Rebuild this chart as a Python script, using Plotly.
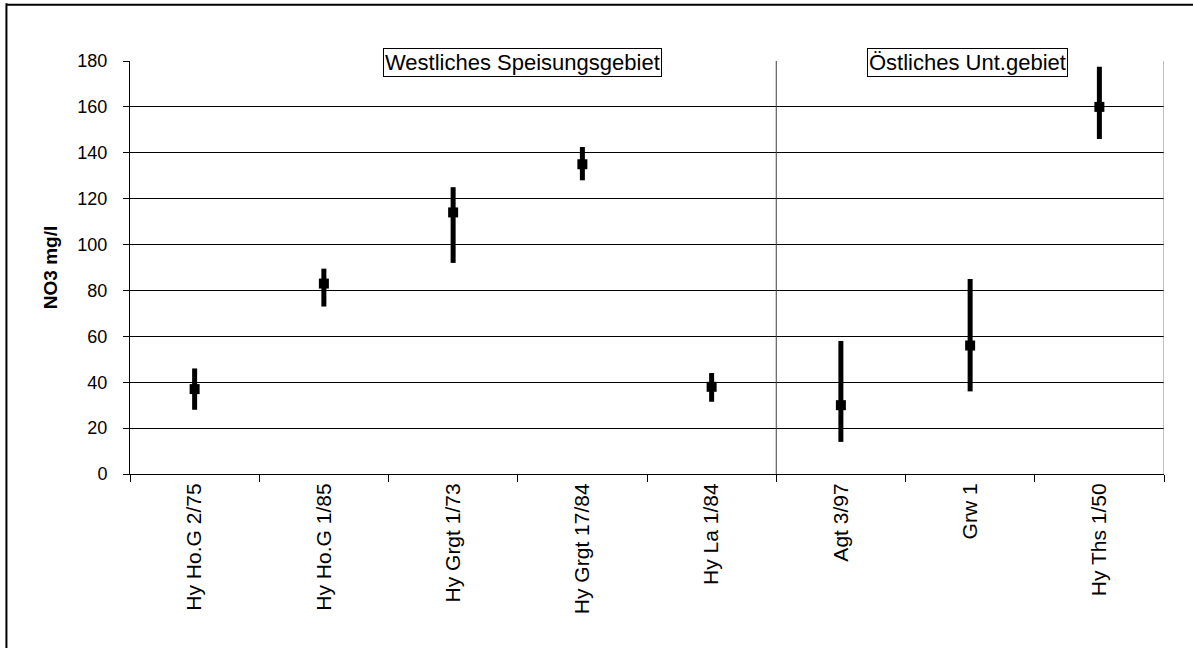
import plotly.graph_objects as go

# Nitrate concentrations per well: mean value with observed min/max range
wells = ["Hy Ho.G 2/75", "Hy Ho.G 1/85", "Hy Grgt 1/73", "Hy Grgt 17/84",
         "Hy La 1/84", "Agt 3/97", "Grw 1", "Hy Ths 1/50"]
no3_mean = [37, 83, 114, 135, 38, 30, 56, 160]
no3_min = [28, 73, 92, 128, 31.5, 14, 36, 146]
no3_max = [46, 89.5, 125, 142.5, 44, 58, 85, 177.5]

y_ticks = [0, 20, 40, 60, 80, 100, 120, 140, 160, 180]
region_labels = ["Westliches Speisungsgebiet", "Östliches Unt.gebiet"]
region_centres = [2.54, 5.98]

err_plus = [hi - m for hi, m in zip(no3_max, no3_mean)]
err_minus = [m - lo for m, lo in zip(no3_mean, no3_min)]

FONT = "Liberation Sans, Arial, sans-serif"

fig = go.Figure(
    go.Scatter(
        x=wells,
        y=no3_mean,
        mode="markers",
        marker=dict(symbol="square", size=10, color="black"),
        error_y=dict(type="data", array=err_plus, arrayminus=err_minus,
                     thickness=5, width=0, color="black"),
        showlegend=False,
        hoverinfo="x+y",
    )
)

fig.update_layout(
    width=1193,
    height=648,
    margin=dict(l=130, r=29, t=61, b=174),
    paper_bgcolor="white",
    plot_bgcolor="white",
    font=dict(family=FONT, color="black", size=18),
    xaxis=dict(
        type="category",
        range=[-0.5, len(wells) - 0.5],
        tickson="boundaries",
        ticks="outside",
        ticklen=7,
        tickcolor="black",
        tickangle=-90,
        tickfont=dict(size=21),
        showline=True,
        linecolor="black",
        linewidth=1,
        showgrid=False,
        zeroline=False,
    ),
    yaxis=dict(
        range=[0, 180],
        tickvals=y_ticks,
        ticks="outside",
        ticklen=6,
        tickcolor="black",
        ticklabelstandoff=12,
        tickfont=dict(size=18),
        showline=True,
        linecolor="black",
        linewidth=1,
        showgrid=True,
        gridcolor="black",
        gridwidth=1,
        zeroline=False,
        title=dict(text="<b>NO3 mg/l</b>", font=dict(size=19), standoff=14),
    ),
)

# Separator between the two regions and the right frame of the plot
fig.add_shape(type="line", xref="x", yref="y", x0=4.5, x1=4.5, y0=0, y1=180,
              line=dict(color="#404040", width=1))
fig.add_shape(type="line", xref="x", yref="y", x0=7.5, x1=7.5, y0=0, y1=180,
              line=dict(color="#808080", width=1))

# Outer chart frame (left and top edges)
fig.add_shape(type="line", xref="paper", yref="paper", x0=-0.1195, x1=-0.1195,
              y0=-0.6, y1=1.14, line=dict(color="black", width=2))
fig.add_shape(type="line", xref="paper", yref="paper", x0=-0.1195, x1=1.1,
              y0=1.1365, y1=1.1365, line=dict(color="black", width=2))

# Region labels sitting on the top gridline
for label, xc in zip(region_labels, region_centres):
    fig.add_annotation(
        x=xc, y=180, xref="x", yref="y", text=label, showarrow=False,
        font=dict(size=22, family=FONT), bgcolor="white",
        bordercolor="black", borderwidth=1, borderpad=1,
        yshift=-1,
    )

fig.write_html("out.html")
